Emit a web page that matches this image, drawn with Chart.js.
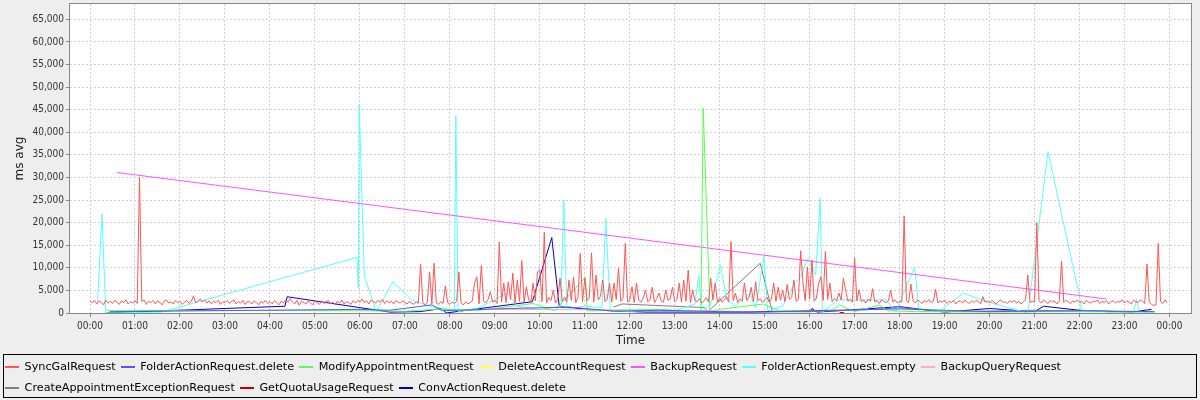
<!DOCTYPE html>
<html>
<head>
<meta charset="utf-8">
<script src="https://cdn.jsdelivr.net/npm/chart.js@4.4.1/dist/chart.umd.min.js"></script>
<style>
  html, body { margin: 0; padding: 0; background: #eeeeee; }
  canvas { display: block; }
</style>
</head>
<body>
<canvas id="chart" width="1200" height="400"></canvas>
<script>
// series names, in legend order
const seriesNames = [
    'SyncGalRequest', 'FolderActionRequest.delete', 'ModifyAppointmentRequest',
    'DeleteAccountRequest', 'BackupRequest', 'FolderActionRequest.empty',
    'BackupQueryRequest', 'CreateAppointmentExceptionRequest',
    'GetQuotaUsageRequest', 'ConvActionRequest.delete'
];
const seriesColors = [
    '#ff5555', '#5555ff', '#55ff55', '#ffff55', '#ff55ff',
    '#55ffff', '#ffafaf', '#808080', '#c00000', '#0000c0'
];

// SyncGalRequest: one sample every 3 minutes from 00:00, one row per hour
const syncGalStep = 3;
const syncGalValues = [
    2600, 2300, 2800, 2000, 2700, 2400, 1800, 2900, 2200, 2600, 2100, 2800, 2400, 1900, 2700, 2300, 2900, 2000, 2500, 2200,
    2700, 2100, 30000, 2500, 2900, 1900, 2600, 2300, 2800, 2000, 2700, 2400, 1800, 2600, 2900, 2200, 2500, 2000, 2800, 2300,
    2600, 1900, 2400, 2800, 2100, 2500, 3800, 2200, 2700, 3100, 2400, 2900, 2200, 2700, 2000, 2600, 2300, 2800, 1900, 2500,
    2300, 2800, 2100, 2600, 2900, 2000, 2500, 2200, 2800, 1900, 2600, 2400, 2000, 2700, 2300, 1800, 2600, 2200, 2800, 2100,
    2500, 2000, 2700, 2300, 1800, 2600, 2200, 2900, 2400, 3200, 2500, 2000, 2800, 1700, 2600, 2300, 2000, 2700, 2200, 1800,
    2600, 2300, 1900, 2700, 2100, 2500, 2800, 2000, 2400, 1800, 2600, 2200, 2900, 2000, 2500, 2300, 1900, 2700, 2200, 2800,
    2400, 3100, 2300, 2700, 2000, 2900, 2500, 2200, 2800, 2400, 3000, 2100, 2700, 2300, 2600, 2000, 2800, 2400, 2200, 2700,
    2300, 2000, 2600, 2200, 1900, 2500, 2100, 10800, 2300, 1800, 2400, 9100, 2000, 11000, 2200, 1900, 2500, 2100, 6000, 2300,
    1900, 2400, 2100, 2600, 9100, 2200, 1800, 2500, 2000, 2300, 2700, 6700, 8000, 2000, 10500, 2600, 2200, 3000, 4700, 2400,
    2800, 2100, 15700, 2500, 6600, 2300, 6900, 3000, 8800, 2200, 7300, 2600, 11600, 2400, 5800, 3100, 2200, 6600, 2700, 9100,
    9500, 2500, 17900, 2300, 3400, 2800, 5100, 2200, 3000, 7700, 2600, 3500, 2400, 7300, 2800, 8000, 2300, 3600, 13200, 2500,
    7700, 2700, 3400, 13300, 2400, 8400, 2900, 3700, 7300, 2500, 3100, 6600, 2400, 6600, 3000, 9900, 2600, 3300, 15400, 2500,
    2800, 5800, 2300, 6600, 2900, 2400, 3300, 5100, 2500, 2900, 5700, 2300, 3200, 4400, 2600, 2400, 5100, 2800, 3100, 5700,
    2500, 3000, 6600, 2400, 7300, 2600, 9500, 2300, 5100, 2800, 2500, 3200, 2200, 2700, 3400, 2400, 7700, 2900, 6600, 2500,
    3300, 2400, 2900, 3700, 2500, 15800, 2700, 4400, 2300, 3100, 2600, 6600, 2800, 3400, 5700, 2500, 6900, 2700, 3200, 2400,
    2900, 3500, 2400, 3100, 6600, 2600, 5700, 2800, 5100, 2500, 6300, 2900, 3400, 7300, 2600, 3000, 13800, 6900, 2700, 10200,
    3100, 11700, 2600, 3300, 6600, 8000, 2800, 13600, 3000, 6600, 2500, 3200, 2700, 4400, 2900, 7700, 5100, 2600, 3000, 2400,
    12100, 2700, 5100, 2500, 2900, 2200, 3100, 2600, 5400, 2400, 2800, 2100, 3000, 2500, 2300, 2700, 5100, 2400, 2900, 2200,
    2600, 2400, 21500, 2800, 2300, 6400, 2700, 2200, 2900, 2500, 2100, 2800, 2400, 3000, 2300, 2600, 5300, 2200, 2700, 2400,
    2900, 2100, 2600, 2300, 2800, 2000, 2500, 2700, 2200, 2900, 2400, 2100, 2700, 2300, 2800, 2500, 2000, 3600, 2400, 2700,
    2200, 2800, 2400, 2000, 2600, 2900, 2300, 2500, 2100, 2700, 2400, 2800, 2200, 2600, 2000, 2500, 2900, 8400, 2300, 2600,
    2400, 20000, 2700, 2200, 2900, 2500, 2100, 2800, 2400, 2600, 2000, 2700, 11500, 2300, 2800, 2500, 2100, 2700, 2400, 2900,
    2300, 2600, 2000, 2800, 2400, 2200, 2700, 2500, 2900, 2100, 2600, 2300, 2800, 2000, 2500, 2700, 2200, 2600, 2400, 2900,
    2200, 2700, 2400, 2000, 2800, 2500, 2300, 2900, 2600, 2100, 10800, 2400, 1900, 1700, 1800, 15400, 2600, 2100, 2900, 2300
];

// FolderActionRequest.delete
const folderDeleteTimes = ['00:26', '06:00', '06:40', '07:36', '07:50', '09:20', '10:40', '11:40', '12:40', '14:00', '15:00', '16:00', '18:00', '20:00', '22:00', '23:40'];
const folderDeleteValues = [300, 800, 600, 1800, 500, 1000, 1300, 400, 600, 300, 200, 500, 900, 300, 500, 300];

// ModifyAppointmentRequest
const modifyApptTimes = ['00:22', '05:58', '07:00', '07:40', '08:40', '09:51', '10:20', '11:01', '11:03', '11:40', '12:40', '13:35', '13:38', '13:47', '14:00', '14:58', '15:20', '16:30', '16:40', '17:00', '17:33', '17:45', '18:20', '20:00', '21:40', '23:40'];
const modifyApptValues = [600, 500, 400, 800, 600, 2100, 500, 7900, 500, 600, 800, 300, 45300, 300, 800, 2000, 500, 600, 1800, 300, 1800, 500, 300, 200, 300, 200];

// DeleteAccountRequest
const deleteAccountTimes = ['10:00', '10:06'];
const deleteAccountValues = [100, 100];

// BackupRequest
const backupTimes = ['00:36', '22:36'];
const backupValues = [31100, 3100];

// FolderActionRequest.empty
const folderEmptyTimes = [
    '00:10', '00:16', '00:21', '01:35', '05:56', '05:58', '05:59', '06:06', '06:22', '06:44',
    '07:09', '07:33', '07:50', '08:06', '08:08', '08:11', '08:40', '09:16', '09:30', '10:00',
    '10:28', '10:32', '10:36', '11:00', '11:23', '11:28', '11:34', '12:00', '12:30', '13:00',
    '13:27', '13:32', '13:36', '13:48', '14:01', '14:09', '14:21', '14:40', '14:48', '14:59',
    '15:04', '15:24', '15:40', '15:47', '15:58', '16:08', '16:14', '16:17', '16:38', '17:42',
    '17:55', '18:20', '18:26', '18:53', '19:25', '19:56', '20:51', '21:18', '22:00', '22:03',
    '22:35', '22:38', '23:12', '23:16', '23:20', '23:40'
];
const folderEmptyValues = [
    2500, 21900, 0, 200, 12300, 5500, 46200, 8200, 300, 6900,
    2900, 1500, 1000, 800, 43700, 300, 1200, 4400, 1500, 800,
    1500, 25000, 800, 1500, 1200, 21000, 600, 300, 800, 500,
    2000, 8200, 300, 2000, 10600, 3000, 1500, 4400, 1000, 12500,
    500, 1500, 6600, 7700, 12100, 8400, 25400, 300, 2900, 2900,
    300, 10200, 300, 400, 4400, 2500, 0, 35700, 3600, 500,
    400, 0, 0, 3000, 0, 0
];

// BackupQueryRequest
const backupQueryTimes = ['09:00', '11:40', '14:20'];
const backupQueryValues = [800, 700, 400];

// CreateAppointmentExceptionRequest
const createApptExTimes = ['11:38', '11:50', '13:40', '13:44', '14:54', '15:10', '16:00', '17:30', '18:00', '19:00', '21:00', '22:00'];
const createApptExValues = [1300, 2000, 1200, 300, 11000, 400, 300, 800, 1200, 300, 600, 400];

// GetQuotaUsageRequest
const quotaTimes = ['16:40', '16:46'];
const quotaValues = [100, 100];

// ConvActionRequest.delete
const convDeleteTimes = [
    '00:22', '04:20', '04:23', '06:40', '07:20', '07:50', '07:55', '09:50', '10:16', '10:26',
    '11:20', '12:20', '14:40', '15:00', '16:00', '16:03', '16:10', '18:00', '19:00', '20:00',
    '21:00', '21:12', '22:00', '23:10', '23:36'
];
const convDeleteValues = [
    0, 1500, 3600, 200, 300, 1000, 0, 2500, 16700, 1400,
    600, 200, 200, 300, 300, 1000, 200, 1400, 200, 1000,
    300, 1500, 600, 200, 800
];

// y axis
const yMax = 68400;
const yTicks = [0, 5000, 10000, 15000, 20000, 25000, 30000, 35000, 40000, 45000, 50000, 55000, 60000, 65000];

function toMinutes(t) {
    const parts = t.split(':');
    return parseInt(parts[0], 10) * 60 + parseInt(parts[1], 10);
}

function points(times, values) {
    return times.map(function(t, i) {
        return { x: toMinutes(t), y: values[i] };
    });
}

const syncGalPoints = syncGalValues.map(function(v, i) {
    return { x: i * syncGalStep, y: v };
});

const seriesData = [
    syncGalPoints,
    points(folderDeleteTimes, folderDeleteValues),
    points(modifyApptTimes, modifyApptValues),
    points(deleteAccountTimes, deleteAccountValues),
    points(backupTimes, backupValues),
    points(folderEmptyTimes, folderEmptyValues),
    points(backupQueryTimes, backupQueryValues),
    points(createApptExTimes, createApptExValues),
    points(quotaTimes, quotaValues),
    points(convDeleteTimes, convDeleteValues)
];

const datasets = seriesNames.map(function(name, i) {
    return {
        label: name,
        data: seriesData[i],
        borderColor: seriesColors[i],
        backgroundColor: seriesColors[i],
        borderWidth: 1,
        pointRadius: 0,
        tension: 0,
        fill: false
    };
});

const tickFont = { family: '"DejaVu Sans Condensed", "DejaVu Sans", sans-serif', size: 10 };
const labelFont = { family: '"DejaVu Sans", sans-serif', size: 12 };

// plot background, plot outline, legend frame and legend line samples
const frames = {
    id: 'frames',
    beforeDraw: function(chart) {
        const ctx = chart.ctx;
        const a = chart.chartArea;
        ctx.save();
        ctx.fillStyle = '#eeeeee';
        ctx.fillRect(0, 0, chart.width, chart.height);
        ctx.fillStyle = '#ffffff';
        ctx.fillRect(a.left, a.top, a.right - a.left, a.bottom - a.top);
        ctx.restore();
    },
    afterDraw: function(chart) {
        const ctx = chart.ctx;
        const a = chart.chartArea;
        const lg = chart.legend;
        ctx.save();
        ctx.setLineDash([]);
        ctx.globalAlpha = 1;
        ctx.strokeStyle = '#888888';
        ctx.lineWidth = 1;
        ctx.strokeRect(a.left - 0.5, a.top - 0.5, a.right - a.left + 1, a.bottom - a.top + 1);

        ctx.strokeStyle = '#000000';
        ctx.strokeRect(3.5, lg.top + 0.5, chart.width - 7, lg.bottom - lg.top - 3);

        ctx.lineWidth = 2;
        ctx.lineCap = 'butt';
        lg.legendHitBoxes.forEach(function(hb, i) {
            const y = Math.round(hb.top + hb.height / 2);
            ctx.strokeStyle = seriesColors[i];
            ctx.beginPath();
            ctx.moveTo(Math.round(hb.left), y);
            ctx.lineTo(Math.round(hb.left) + 14, y);
            ctx.stroke();
        });
        ctx.restore();
    }
};

function noEdgePadding(scale) {
    scale.paddingTop = 0;
    scale.paddingBottom = 0;
    scale.paddingLeft = 0;
    scale.paddingRight = 0;
}

new Chart(document.getElementById('chart'), {
    type: 'line',
    data: { datasets: datasets },
    options: {
        responsive: false,
        animation: false,
        devicePixelRatio: 1,
        events: [],
        layout: { padding: { top: 4, right: 9, bottom: 0, left: 0 } },
        scales: {
            x: {
                type: 'linear',
                min: -26.7,
                max: 1468.7,
                afterFit: function(scale) { scale.height = 41; noEdgePadding(scale); },
                grid: { color: '#d0d0d0', tickLength: 4, tickColor: '#888888', tickBorderDash: [] },
                border: { display: false, dash: [2, 2] },
                ticks: {
                    stepSize: 60,
                    includeBounds: false,
                    autoSkip: false,
                    maxRotation: 0,
                    padding: 3,
                    color: '#333333',
                    font: tickFont,
                    callback: function(v) {
                        const h = Math.round(v / 60) % 24;
                        return (h < 10 ? '0' : '') + h + ':00';
                    }
                },
                title: { display: true, text: 'Time', color: '#222222', font: labelFont, padding: { top: 0, bottom: 6 } }
            },
            y: {
                min: 0,
                max: yMax,
                afterBuildTicks: function(scale) {
                    scale.ticks = yTicks.map(function(v) { return { value: v }; });
                },
                afterFit: function(scale) { scale.width = 70; noEdgePadding(scale); },
                grid: { color: '#d0d0d0', tickLength: 4, tickColor: '#888888', tickBorderDash: [] },
                border: { display: false, dash: [2, 2] },
                ticks: {
                    padding: 2,
                    color: '#333333',
                    font: tickFont,
                    callback: function(v) { return v.toLocaleString('en-US'); }
                },
                title: { display: true, text: 'ms avg', color: '#222222', font: labelFont, padding: { top: 13, bottom: 0 } }
            }
        },
        plugins: {
            tooltip: { enabled: false },
            legend: {
                position: 'bottom',
                align: 'start',
                maxHeight: 46,
                labels: {
                    boxWidth: 14,
                    boxHeight: 16,
                    padding: 5,
                    color: '#000000',
                    font: { family: '"DejaVu Sans", sans-serif', size: 11.2 },
                    generateLabels: function(chart) {
                        return chart.data.datasets.map(function(ds, i) {
                            return {
                                text: ds.label,
                                fillStyle: 'rgba(0,0,0,0)',
                                strokeStyle: 'rgba(0,0,0,0)',
                                lineWidth: 0,
                                hidden: false,
                                datasetIndex: i
                            };
                        });
                    }
                }
            }
        }
    },
    plugins: [frames]
});
</script>
</body>
</html>
